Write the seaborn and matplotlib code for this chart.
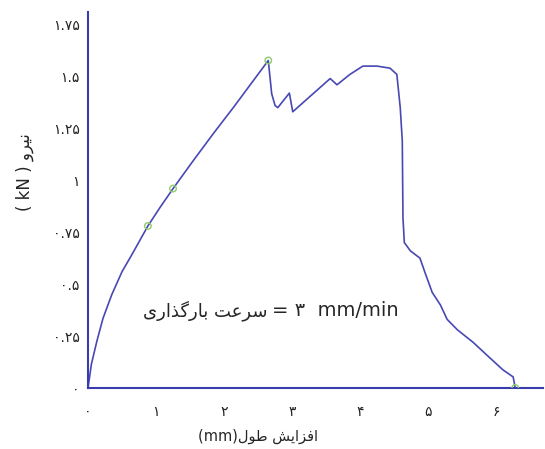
import matplotlib
matplotlib.use("Agg")
import matplotlib.pyplot as plt
import seaborn as sns

# displacement (mm) and force (kN)
disp = [0, 0.05, 0.13, 0.22, 0.35, 0.50, 0.65, 0.88, 1.06, 1.25, 1.55, 1.84,
        2.14, 2.43, 2.65, 2.70, 2.75, 2.79, 2.96, 3.01, 3.25, 3.56, 3.66, 3.85,
        4.04, 4.25, 4.44, 4.54, 4.59, 4.62, 4.63, 4.65, 4.74, 4.88, 4.96, 5.06,
        5.18, 5.28, 5.43, 5.66, 5.91, 6.10, 6.25, 6.28]
force = [0, 0.115, 0.225, 0.335, 0.45, 0.56, 0.645, 0.78, 0.87, 0.96, 1.096,
         1.224, 1.352, 1.48, 1.577, 1.417, 1.36, 1.35, 1.42, 1.33, 1.40, 1.49,
         1.46, 1.51, 1.55, 1.55, 1.54, 1.51, 1.35, 1.19, 0.82, 0.70, 0.66, 0.625,
         0.55, 0.46, 0.40, 0.33, 0.28, 0.22, 0.144, 0.087, 0.053, 0.0]

# green marked points
mark_disp = [0.88, 1.25, 2.65, 6.28]
mark_force = [0.78, 0.96, 1.577, 0.0]

xticks = [0, 1, 2, 3, 4, 5, 6]
xtick_labels = ["۰", "۱", "۲", "۳", "۴", "۵", "۶"]
yticks = [0, 0.25, 0.5, 0.75, 1, 1.25, 1.5, 1.75]
ytick_labels = ["۰", "۰.۲۵", "۰.۵", "۰.۷۵", "۱", "۱.۲۵", "۱.۵", "۱.۷۵"]

# persian letters -> presentation forms (isolated, final, initial, medial)
FORMS = {
    'ا': (0xFE8D, 0xFE8E, None, None),
    'ب': (0xFE8F, 0xFE90, 0xFE91, 0xFE92),
    'ت': (0xFE95, 0xFE96, 0xFE97, 0xFE98),
    'ذ': (0xFEAB, 0xFEAC, None, None),
    'ر': (0xFEAD, 0xFEAE, None, None),
    'ز': (0xFEAF, 0xFEB0, None, None),
    'س': (0xFEB1, 0xFEB2, 0xFEB3, 0xFEB4),
    'ش': (0xFEB5, 0xFEB6, 0xFEB7, 0xFEB8),
    'ط': (0xFEC1, 0xFEC2, 0xFEC3, 0xFEC4),
    'ع': (0xFEC9, 0xFECA, 0xFECB, 0xFECC),
    'ف': (0xFED1, 0xFED2, 0xFED3, 0xFED4),
    'ل': (0xFEDD, 0xFEDE, 0xFEDF, 0xFEE0),
    'ن': (0xFEE5, 0xFEE6, 0xFEE7, 0xFEE8),
    'و': (0xFEED, 0xFEEE, None, None),
    'گ': (0xFB92, 0xFB93, 0xFB94, 0xFB95),
    'ی': (0xFBFC, 0xFBFD, 0xFBFE, 0xFBFF),
}


def fa(text):
    out = []
    for i, ch in enumerate(text):
        if ch not in FORMS:
            out.append(ch)
            continue
        iso, fin, ini, med = FORMS[ch]
        prev = text[i - 1] if i > 0 else ''
        nxt = text[i + 1] if i + 1 < len(text) else ''
        jp = prev in FORMS and FORMS[prev][2] is not None
        jn = nxt in FORMS and ini is not None
        if jp and jn:
            c = med
        elif jp:
            c = fin
        elif jn:
            c = ini
        else:
            c = iso
        out.append(chr(c))
    return ''.join(reversed(out))


sns.set_style("white")
plt.rcParams['font.family'] = ['DejaVu Sans']

blue = "#3b3bb0"

fig = plt.figure(figsize=(5.45, 4.49), dpi=100)
ax = fig.add_axes([0.1615, 0.136, 0.835, 0.837])

sns.lineplot(x=disp, y=force, sort=False, estimator=None, color="#4848b4",
             linewidth=1.2, ax=ax)
sns.scatterplot(x=mark_disp, y=mark_force, s=22, facecolor="none",
                edgecolor="#8ccc6a", linewidth=1.0, ax=ax, zorder=3)

ax.set_xlim(0, 6.69)
ax.set_ylim(0, 1.81)
ax.set_xticks(xticks)
ax.set_xticklabels(xtick_labels, fontsize=10)
ax.set_yticks(yticks)
ax.set_yticklabels(ytick_labels, fontsize=10)
ax.tick_params(axis="both", length=0, colors="#222222")
ax.tick_params(axis="x", pad=12)
ax.tick_params(axis="y", pad=6)

sns.despine(ax=ax)
for s in ["left", "bottom"]:
    ax.spines[s].set_color(blue)
    ax.spines[s].set_linewidth(1.5)

ax.set_xlabel("")
ax.set_ylabel("")
ax.text(0.374, -0.13, "(mm)" + fa("افزایش طول"), transform=ax.transAxes,
        ha="center", va="center", fontsize=10.5)
ax.text(-0.138, 0.574, "( kN ) " + fa("نیرو"), transform=ax.transAxes,
        ha="center", va="center", rotation=90, fontsize=12)
ax.text(0.395, 0.205, fa("سرعت بارگذاری"), transform=ax.transAxes,
        ha="right", va="center", fontsize=13)
ax.text(0.404, 0.205, "= ۳  mm/min", transform=ax.transAxes,
        ha="left", va="center", fontsize=14)

fig.savefig("out.png", dpi=100)
